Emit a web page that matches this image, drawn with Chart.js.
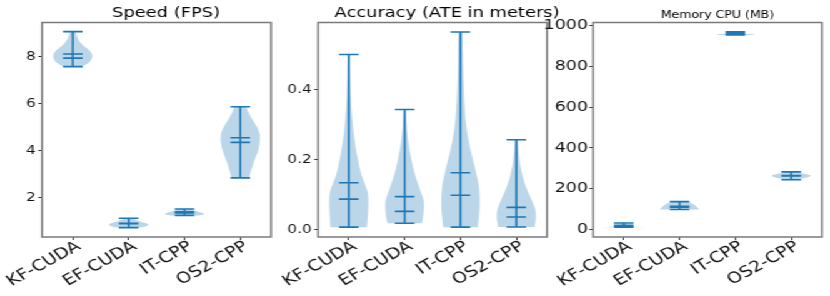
<!DOCTYPE html>
<html>
<head>
<meta charset="utf-8">
<script src="https://cdn.jsdelivr.net/npm/chart.js@4/dist/chart.umd.min.js"></script>
<style>
  body { margin: 0; background: #fff; }
  #fig { position: relative; width: 664px; height: 296px; transform: scaleX(1.25); transform-origin: 0 0; }
  #fig canvas { position: absolute; left: 0; top: 0; }
</style>
</head>
<body>
<div id="fig">
  <canvas id="speedChart" width="664" height="296"></canvas>
  <canvas id="accChart" width="664" height="296"></canvas>
  <canvas id="memChart" width="664" height="296"></canvas>
</div>
<script>
const categories = ["KF-CUDA", "EF-CUDA", "IT-CPP", "OS2-CPP"];
const positions = [1, 2, 3, 4];

// ===== Speed (FPS) =====
const speedMin = [7.57, 0.71, 1.23, 2.83];
const speedMax = [9.06, 1.11, 1.50, 5.86];
const speedMean = [8.11, 0.89, 1.38, 4.54];
const speedMedian = [7.93, 0.88, 1.34, 4.34];
// half width of each violin (1 = widest), from min to max
const speedDensity = [
  [0.5, 0.8, 0.95, 1.0, 0.95, 0.78, 0.55, 0.38, 0.27, 0.2, 0.15],
  [0.55, 0.8, 0.95, 1.0, 0.97, 0.85, 0.68, 0.52, 0.4, 0.3, 0.22],
  [0.75, 0.92, 1.0, 0.97, 0.88, 0.78, 0.68, 0.58, 0.48, 0.4, 0.3],
  [0.45, 0.55, 0.66, 0.8, 0.93, 0.99, 1.0, 0.88, 0.66, 0.45, 0.3],
];
const speedTicks = [2, 4, 6, 8];

// ===== Accuracy (ATE in meters) =====
const accMin = [0.008, 0.019, 0.008, 0.0085];
const accMax = [0.50, 0.343, 0.564, 0.257];
const accMean = [0.1345, 0.095, 0.163, 0.0645];
const accMedian = [0.088, 0.053, 0.099, 0.037];
const accDensity = [
  [0.93, 0.99, 0.97, 0.65, 0.45, 0.3, 0.2, 0.13, 0.09, 0.07, 0.05],
  [0.88, 0.97, 0.97, 0.78, 0.58, 0.42, 0.3, 0.2, 0.13, 0.09, 0.06],
  [0.88, 0.98, 0.95, 0.75, 0.5, 0.32, 0.22, 0.17, 0.14, 0.12, 0.1],
  [0.93, 1.0, 0.97, 0.8, 0.6, 0.43, 0.3, 0.21, 0.15, 0.11, 0.08],
];
const accTicks = [0, 0.2, 0.4];

// ===== Memory CPU (MB) =====
const memMin = [10, 97, 955, 243];
const memMax = [31, 136, 970, 282];
const memMean = [20, 113, 962, 264];
const memMedian = [17, 108, 961, 262];
const memDensity = [
  [1.0, 0.6, 0.35, 0.25, 0.2, 0.18, 0.16, 0.14, 0.12, 0.1, 0.08],
  [1.0, 0.98, 0.94, 0.9, 0.85, 0.8, 0.74, 0.68, 0.6, 0.52, 0.45],
  [0.9, 1.0, 0.9, 0.7, 0.5, 0.35, 0.25, 0.2, 0.15, 0.12, 0.1],
  [0.3, 0.45, 0.6, 0.78, 0.92, 1.0, 0.95, 0.8, 0.6, 0.45, 0.3],
];
const memTicks = [0, 200, 400, 600, 800, 1000];

const BLUE = "#1f77b4";
const FILL = "rgba(31, 119, 180, 0.3)";
const HALF_WIDTH = 0.35;

// curva suave por los puntos (catmull-rom)
function smoothPath(ctx, pts) {
  for (let i = 0; i < pts.length - 1; i++) {
    const p0 = pts[Math.max(i - 1, 0)];
    const p1 = pts[i];
    const p2 = pts[i + 1];
    const p3 = pts[Math.min(i + 2, pts.length - 1)];
    ctx.bezierCurveTo(
      p1[0] + (p2[0] - p0[0]) / 6, p1[1] + (p2[1] - p0[1]) / 6,
      p2[0] - (p3[0] - p1[0]) / 6, p2[1] - (p3[1] - p1[1]) / 6,
      p2[0], p2[1]
    );
  }
}

const violinPlugin = {
  id: "violin",
  afterDatasetsDraw(chart, args, opts) {
    const { ctx, scales: { x, y } } = chart;
    ctx.save();

    opts.min.forEach((mn, i) => {
      const mx = opts.max[i];
      const dens = opts.density[i];
      const pos = positions[i];
      const right = [];
      const left = [];
      dens.forEach((d, k) => {
        const py = y.getPixelForValue(mn + (mx - mn) * k / (dens.length - 1));
        right.push([x.getPixelForValue(pos + d * HALF_WIDTH), py]);
        left.push([x.getPixelForValue(pos - d * HALF_WIDTH), py]);
      });
      left.reverse();

      ctx.beginPath();
      ctx.moveTo(left[left.length - 1][0], left[left.length - 1][1]);
      ctx.lineTo(right[0][0], right[0][1]);
      smoothPath(ctx, right);
      ctx.lineTo(left[0][0], left[0][1]);
      smoothPath(ctx, left);
      ctx.closePath();
      ctx.fillStyle = FILL;
      ctx.fill();
    });

    ctx.strokeStyle = BLUE;
    ctx.lineWidth = 1.6;
    opts.min.forEach((mn, i) => {
      const pos = positions[i];
      const cx = x.getPixelForValue(pos);
      const x0 = x.getPixelForValue(pos - HALF_WIDTH / 2);
      const x1 = x.getPixelForValue(pos + HALF_WIDTH / 2);
      ctx.beginPath();
      ctx.moveTo(cx, y.getPixelForValue(mn));
      ctx.lineTo(cx, y.getPixelForValue(opts.max[i]));
      [mn, opts.max[i], opts.mean[i], opts.median[i]].forEach((val) => {
        const py = y.getPixelForValue(val);
        ctx.moveTo(x0, py);
        ctx.lineTo(x1, py);
      });
      ctx.stroke();
    });
    ctx.restore();
  },
};

const framePlugin = {
  id: "frame",
  afterDraw(chart, args, opts) {
    const { ctx, chartArea: a } = chart;
    ctx.save();
    ctx.strokeStyle = "#7a7a7a";
    ctx.lineWidth = 1.5;
    ctx.strokeRect(a.left, a.top, a.right - a.left, a.bottom - a.top);

    ctx.font = `${opts.size}px 'DejaVu Sans'`;
    ctx.fillStyle = "#000";
    ctx.textAlign = "center";
    ctx.textBaseline = "alphabetic";
    ctx.fillText(opts.title, (a.left + a.right) / 2 + opts.offset, opts.baseline);
    ctx.restore();
  },
};

function violinChart(id, cfg) {
  return new Chart(document.getElementById(id), {
    type: "scatter",
    data: { datasets: [] },
    plugins: [violinPlugin, framePlugin],
    options: {
      responsive: false,
      animation: false,
      layout: {
        padding: { left: cfg.left - cfg.axisWidth, right: 664 - cfg.right, top: 22.5, bottom: 0 },
      },
      plugins: {
        legend: { display: false },
        tooltip: { enabled: false },
        violin: { min: cfg.min, max: cfg.max, mean: cfg.mean, median: cfg.median, density: cfg.density },
        frame: { title: cfg.title, size: cfg.titleSize, offset: cfg.titleOffset, baseline: cfg.titleBaseline },
      },
      scales: {
        x: {
          type: "linear",
          min: 0.45,
          max: 4.55,
          afterBuildTicks: (s) => { s.ticks = positions.map((p) => ({ value: p })); },
          afterFit: (s) => { s.height = 59; s.paddingLeft = 0; s.paddingRight = 0; },
          grid: { drawOnChartArea: false, tickLength: 3, color: "#333" },
          border: { display: false },
          ticks: {
            callback: (val, idx) => categories[idx],
            minRotation: 34,
            maxRotation: 34,
            autoSkip: false,
            padding: -2.5,
            labelOffset: 5,
            color: "#111",
            font: { family: "DejaVu Sans", size: 15.2 },
          },
        },
        y: {
          min: cfg.yMin,
          max: cfg.yMax,
          afterBuildTicks: (s) => { s.ticks = cfg.ticks.map((v) => ({ value: v })); },
          afterFit: (s) => { s.width = cfg.axisWidth; s.paddingTop = 0; s.paddingBottom = 0; },
          grid: { drawOnChartArea: false, tickLength: 3, color: "#333" },
          border: { display: false },
          ticks: {
            callback: cfg.fmt,
            padding: cfg.tickPad,
            color: "#111",
            font: { family: "DejaVu Sans", size: cfg.tickSize },
          },
        },
      },
    },
  });
}

violinChart("speedChart", {
  title: "Speed (FPS)", titleSize: 14.3, titleOffset: 7.6, titleBaseline: 17.3,
  left: 33.6, right: 216.8, axisWidth: 30,
  yMin: 0.31, yMax: 9.45, ticks: speedTicks, fmt: (v) => String(v),
  tickSize: 12.3, tickPad: 2,
  min: speedMin, max: speedMax, mean: speedMean, median: speedMedian, density: speedDensity,
});

violinChart("accChart", {
  title: "Accuracy (ATE in meters)", titleSize: 14.3, titleOffset: 11.6, titleBaseline: 17.3,
  left: 254.4, right: 437.6, axisWidth: 45,
  yMin: -0.02, yMax: 0.591, ticks: accTicks, fmt: (v) => v.toFixed(1),
  tickSize: 12.3, tickPad: 2,
  min: accMin, max: accMax, mean: accMean, median: accMedian, density: accDensity,
});

violinChart("memChart", {
  title: "Memory CPU (MB)", titleSize: 10, titleOffset: 8, titleBaseline: 18.3,
  left: 474.4, right: 657.6, axisWidth: 50,
  yMin: -38, yMax: 1016, ticks: memTicks, fmt: (v) => String(v),
  tickSize: 14, tickPad: 1,
  min: memMin, max: memMax, mean: memMean, median: memMedian, density: memDensity,
});
</script>
</body>
</html>
